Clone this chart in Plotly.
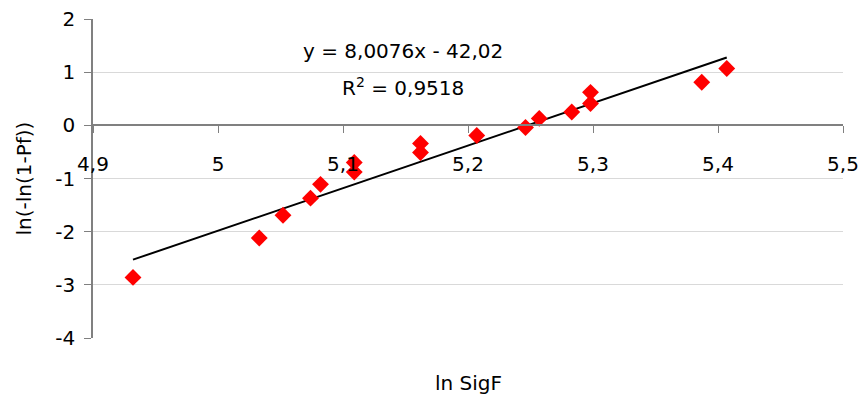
import plotly.graph_objects as go

# Data
ln_sigf = [4.932, 5.033, 5.052, 5.074, 5.082, 5.109, 5.109, 5.162, 5.162,
           5.207, 5.246, 5.257, 5.283, 5.298, 5.298, 5.387, 5.407]
ln_ln_pf = [-2.86, -2.12, -1.69, -1.37, -1.11, -0.70, -0.88, -0.34, -0.51,
            -0.19, -0.04, 0.13, 0.25, 0.62, 0.41, 0.81, 1.07]

# Trendline as given on the chart
slope = 8.0076
intercept = -42.02
eq_text = "y = 8,0076x - 42,02"
r2_text = "R<sup>2</sup> = 0,9518"

x_ticks = [4.9, 5.0, 5.1, 5.2, 5.3, 5.4, 5.5]
x_ticktext = ["4,9", "5", "5,1", "5,2", "5,3", "5,4", "5,5"]
y_ticks = [-4, -3, -2, -1, 0, 1, 2]
y_ticktext = ["-4", "-3", "-2", "-1", "0", "1", "2"]

x_fit = [min(ln_sigf), max(ln_sigf)]
y_fit = [slope * v + intercept for v in x_fit]

FONT = "DejaVu Sans"
FS = 20

fig = go.Figure()
fig.add_trace(go.Scatter(x=x_fit, y=y_fit, mode="lines",
                         line=dict(color="black", width=2),
                         showlegend=False, hoverinfo="skip"))
fig.add_trace(go.Scatter(x=ln_sigf, y=ln_ln_pf, mode="markers",
                         marker=dict(symbol="diamond", color="#ff0000", size=13,
                                     line=dict(width=0)),
                         showlegend=False))

fig.update_layout(
    width=862, height=397,
    margin=dict(l=93, r=19, t=19, b=59),
    paper_bgcolor="white", plot_bgcolor="white",
    font=dict(family=FONT, size=FS, color="black"),
    xaxis=dict(range=[4.9, 5.5], tickvals=x_ticks, ticktext=x_ticktext,
               anchor="free", position=2/3, showline=True, linecolor="#808080",
               linewidth=1.5, ticks="outside", ticklen=7, tickcolor="#808080",
               showgrid=False, zeroline=False, ticklabelstandoff=14,
               automargin=False,
               tickfont=dict(family=FONT, size=FS, color="black")),
    yaxis=dict(range=[-4, 2], tickvals=y_ticks, ticktext=y_ticktext,
               showline=True, linecolor="#808080",
               linewidth=1.5, ticks="outside", ticklen=7, tickcolor="#808080",
               showgrid=True, gridcolor="#d9d9d9", gridwidth=1.2, zeroline=False,
               ticklabelstandoff=5, automargin=False,
               tickfont=dict(family=FONT, size=FS, color="black")),
    annotations=[
        dict(text=eq_text, x=5.148, y=1.39, xref="x", yref="y", showarrow=False,
             font=dict(family=FONT, size=FS, color="black")),
        dict(text=r2_text, x=5.148, y=0.73, xref="x", yref="y", showarrow=False,
             font=dict(family=FONT, size=FS, color="black")),
        dict(text="ln SigF", x=0.5, y=-0.141, xref="paper", yref="paper",
             showarrow=False, yanchor="middle",
             font=dict(family=FONT, size=FS, color="black")),
        dict(text="ln(-ln(1-Pf))", x=-0.0933, y=0.5, xref="paper", yref="paper",
             showarrow=False, textangle=-90, xanchor="center", yanchor="middle",
             font=dict(family=FONT, size=FS, color="black")),
    ],
)

fig.write_html(
    "out.html",
    config={"displayModeBar": False},
    post_script="document.body.style.margin='0';document.body.style.overflow='hidden';",
)
